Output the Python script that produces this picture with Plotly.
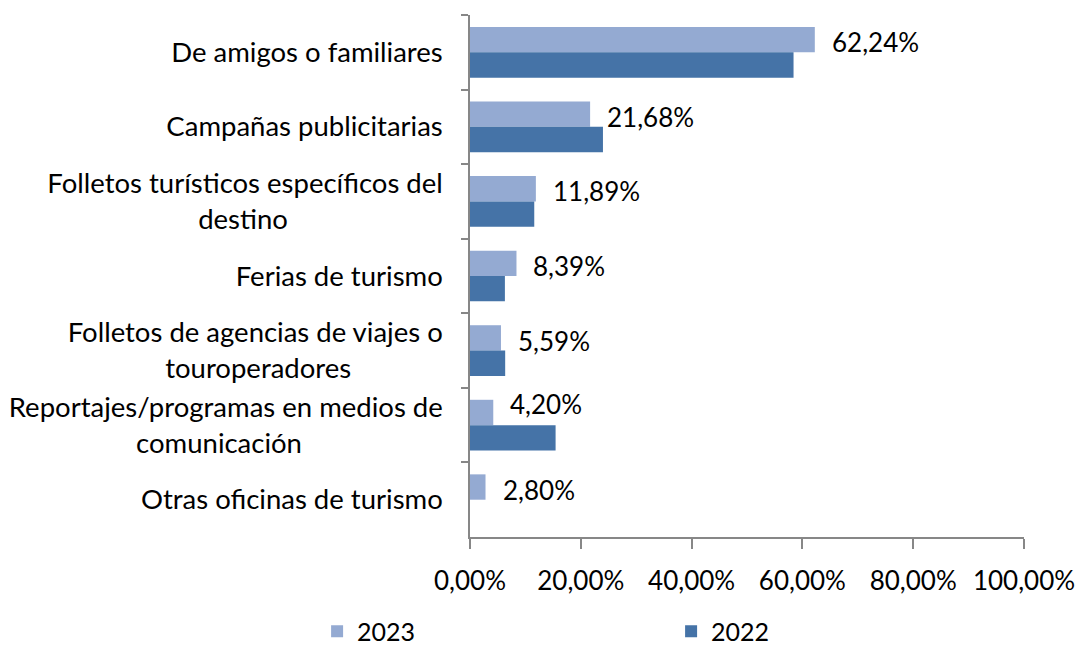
import plotly.graph_objects as go

NB = "\u00a0"

# Categories (top to bottom) with wrapped labels
categories = [
    "De amigos o familiares",
    "Campañas publicitarias",
    "Folletos turísticos específicos del<br>destino" + NB * 22,
    "Ferias de turismo",
    "Folletos de agencias de viajes o<br>touroperadores" + NB * 13,
    "Reportajes/programas en medios de<br>comunicación" + NB * 20,
    "Otras oficinas de turismo",
]

values_2023 = [62.24, 21.68, 11.89, 8.39, 5.59, 4.20, 2.80]
values_2022 = [58.4, 24.0, 11.6, 6.3, 6.35, 15.45, None]

x_ticks = [0, 20, 40, 60, 80, 100]
x_tick_text = [f"{t:.2f}".replace(".", ",") + "%" for t in x_ticks]

COLOR_2023 = "#94AAD2"
COLOR_2022 = "#4573A7"
AXIS_COLOR = "#878787"
FONT = "Lato"
FS = 26

# Value label vertical offset (px); the label next to a longer 2022 bar is lifted clear of it
LABEL_SHIFT = 10
LABEL_SHIFT_LIFTED = 21

fig = go.Figure()
fig.add_trace(go.Bar(
    name="2023", y=categories, x=values_2023, orientation="h",
    marker=dict(color=COLOR_2023, line=dict(width=0)),
))
fig.add_trace(go.Bar(
    name="2022", y=categories, x=values_2022, orientation="h",
    marker=dict(color=COLOR_2022, line=dict(width=0)),
))

# Value labels for 2023 bars
for cat, v, v_prev in zip(categories, values_2023, values_2022):
    lifted = v_prev is not None and v_prev > v + 8
    fig.add_annotation(
        x=v, y=cat, xref="x", yref="y",
        text=f"{v:.2f}".replace(".", ",") + "%",
        showarrow=False, xanchor="left", yanchor="middle",
        xshift=15, yshift=LABEL_SHIFT_LIFTED if lifted else LABEL_SHIFT,
        font=dict(family=FONT, size=FS, color="#000000"),
    )

fig.update_layout(
    width=1076, height=646,
    margin=dict(l=470, r=52, t=15, b=109, autoexpand=False),
    paper_bgcolor="white", plot_bgcolor="white",
    barmode="group", bargap=0.32, bargroupgap=0,
    font=dict(family=FONT, size=FS, color="#000000"),
    showlegend=True,
    legend=dict(
        orientation="h",
        x=-0.276, xanchor="left", y=-0.181, yanchor="middle",
        entrywidth=309, entrywidthmode="pixels",
        font=dict(family=FONT, size=25, color="#000000"),
        traceorder="normal",
    ),
)

fig.update_xaxes(
    range=[0, 100], tickvals=x_ticks, ticktext=x_tick_text,
    showgrid=False, zeroline=False, automargin=False,
    showline=True, linecolor=AXIS_COLOR, linewidth=1.5,
    ticks="outside", ticklen=10, tickwidth=1.5, tickcolor=AXIS_COLOR,
    ticklabelstandoff=10,
    tickfont=dict(family=FONT, size=26),
)
fig.update_yaxes(
    autorange="reversed", type="category", automargin=False,
    showgrid=False, zeroline=False,
    showline=True, linecolor=AXIS_COLOR, linewidth=1.5,
    ticks="outside", ticklen=7, tickwidth=1.5, tickcolor=AXIS_COLOR,
    tickson="boundaries", ticklabelstandoff=20,
    tickfont=dict(family=FONT, size=27.5),
)

fig.write_html("out.html")
